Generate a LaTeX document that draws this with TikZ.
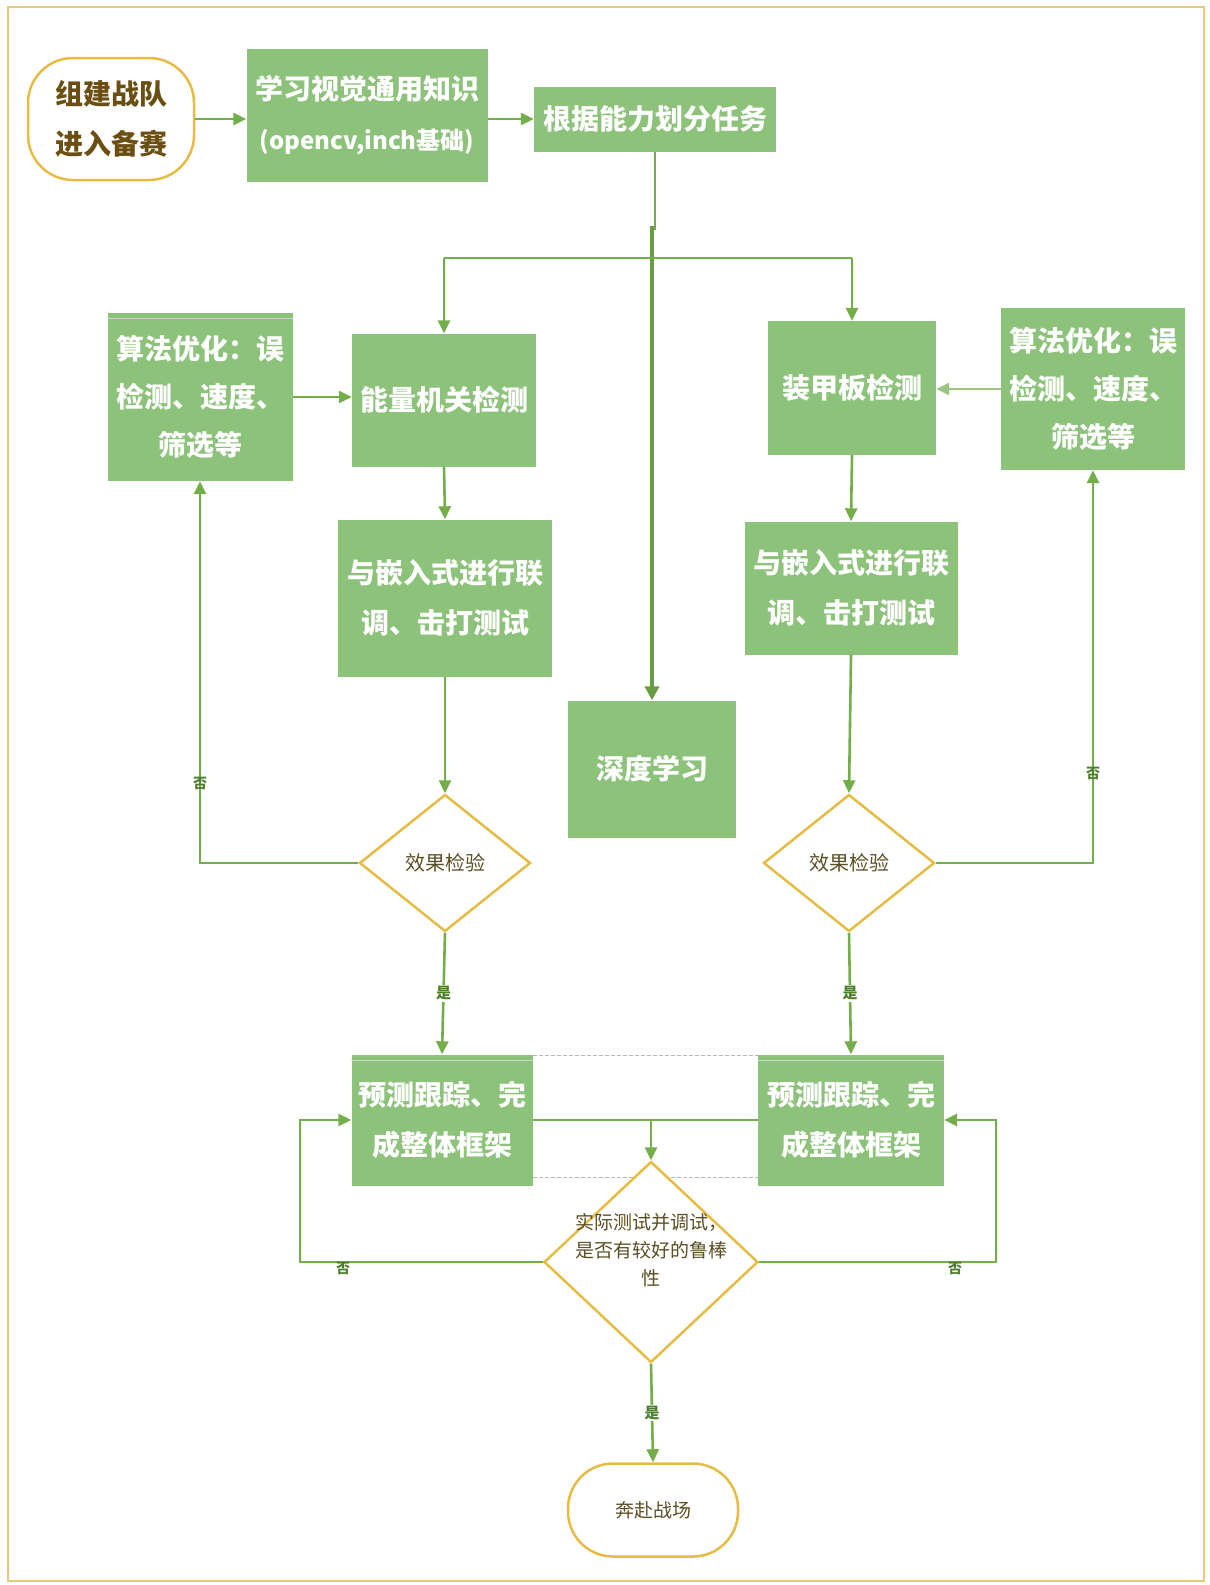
\documentclass[tikz,border=0pt]{standalone}
\usepackage{fontspec}
\setmainfont{Noto Sans CJK SC}
\usetikzlibrary{arrows.meta,shapes.geometric}

\definecolor{boxgreen}{HTML}{8DC27B}
\definecolor{linegreen}{HTML}{74AE4B}
\definecolor{goldline}{HTML}{E6BC45}
\definecolor{framegold}{HTML}{EBC77A}
\definecolor{browntext}{HTML}{6B4F12}
\definecolor{olivetext}{HTML}{5C4E24}
\definecolor{labelgreen}{HTML}{4C7F2C}

\tikzset{
  taskbox/.style={fill=boxgreen, draw=none, text=white, align=center, inner sep=0pt,
    font=\fontsize{28}{50}\selectfont\bfseries},
  terminal/.style={draw=goldline, line width=2.5pt, rounded corners=45pt, fill=white,
    align=center, inner sep=0pt},
  decision/.style={draw=goldline, line width=2.5pt, diamond, fill=white, inner sep=0pt, shape aspect=1},
  dectext/.style={text=olivetext, align=center, inner sep=0pt},
  flow/.style={draw=linegreen, line width=2.6pt,
    -{Triangle[length=13pt,width=12pt]}},
  flowline/.style={draw=linegreen, line width=2.6pt},
  trunk/.style={draw=linegreen!90!black, line width=4.5pt,
    -{Triangle[length=14pt,width=14pt]}},
  yeslabel/.style={text=labelgreen, fill=white, inner sep=1.5pt,
    font=\fontsize{15}{15}\selectfont\bfseries},
  nolabel/.style={text=labelgreen, inner sep=0pt,
    font=\fontsize{14}{14}\selectfont\bfseries},
  sheen/.style={draw=gray!35, line width=1.2pt},
  lane/.style={draw=gray!55, line width=1.2pt, dash pattern=on 4pt off 2pt}
}

\begin{document}
\begin{tikzpicture}[x=1pt, y=-1pt]
  \useasboundingbox (0,0) rectangle (1210,1585);
  % outer frame
  \draw[framegold, line width=2.5pt] (8,7) rectangle (1204,1581);

  % top row
  \node[terminal, minimum width=166pt, minimum height=122pt, text=browntext,
        font=\fontsize{28}{50}\selectfont\bfseries] (start) at (111,119) {组建战队\\进入备赛};
  \node[taskbox, minimum width=241pt, minimum height=133pt] (learn) at (367,115)
        {学习视觉通用知识\\{\fontsize{24}{50}\selectfont(opencv,inch基础)}};
  \node[taskbox, minimum width=242pt, minimum height=65pt] (split) at (655,119) {根据能力划分任务};

  % two detection branches
  \node[taskbox, minimum width=185pt, minimum height=168pt,
        font=\fontsize{28}{48}\selectfont\bfseries] (optL) at (200,397) {算法优化：误\\检测、速度、\\筛选等};
  \node[taskbox, minimum width=184pt, minimum height=133pt] (rune) at (444,400) {能量机关检测};
  \node[taskbox, minimum width=168pt, minimum height=134pt] (armor) at (852,388) {装甲板检测};
  \node[taskbox, minimum width=184pt, minimum height=162pt,
        font=\fontsize{28}{48}\selectfont\bfseries] (optR) at (1093,389) {算法优化：误\\检测、速度、\\筛选等};
  \node[taskbox, minimum width=214pt, minimum height=157pt] (tuneL) at (445,598) {与嵌入式进行联\\调、击打测试};
  \node[taskbox, minimum width=213pt, minimum height=133pt] (tuneR) at (851,588) {与嵌入式进行联\\调、击打测试};
  \node[taskbox, minimum width=168pt, minimum height=137pt] (deep) at (652,769) {深度学习};

  % checks
  \node[decision, minimum width=171pt, minimum height=137pt] (checkL) at (445,863) {};
  \node[dectext, font=\fontsize{20}{20}\selectfont] (checkLt) at (checkL) {效果检验};
  \node[decision, minimum width=171pt, minimum height=137pt] (checkR) at (849,863) {};
  \node[dectext, font=\fontsize{20}{20}\selectfont] (checkRt) at (checkR) {效果检验};

  % tracking boxes
  \node[taskbox, minimum width=181pt, minimum height=131pt] (trackL) at (442,1120) {预测跟踪、完\\成整体框架};
  \node[taskbox, minimum width=186pt, minimum height=131pt] (trackR) at (851,1120) {预测跟踪、完\\成整体框架};
  \draw[sheen] ([yshift=-6pt]optL.north west) -- ([yshift=-6pt]optL.north east);
  \draw[sheen] ([yshift=-6pt]trackL.north west) -- ([yshift=-6pt]trackL.north east);
  \draw[sheen] ([yshift=-6pt]trackR.north west) -- ([yshift=-6pt]trackR.north east);
  \draw[lane] ([yshift=-1pt]trackL.north east) -- ([yshift=-1pt]trackR.north west);
  \draw[lane] ([yshift=8pt]trackL.south east) -- ([yshift=8pt]trackR.south west);

  % final check and end
  \node[decision, minimum width=214pt, minimum height=201pt] (robust) at (651,1262) {};
  \node[dectext, font=\fontsize{19}{28}\selectfont] (robustt) at (651,1250) {实际测试并调试，\\是否有较好的鲁棒\\性};
  \node[terminal, minimum width=170pt, minimum height=93pt, text=olivetext,
        font=\fontsize{19}{19}\selectfont] (go) at (653,1510) {奔赴战场};

  % routing points
  \coordinate (fork) at (652,258);
  \coordinate (loopL) at (300,0);
  \coordinate (loopR) at (996,0);

  % top flow
  \draw[flow] (start.east |- 0,119) -- (learn.west |- 0,119);
  \draw[flow] (learn.east |- split) -- (split.west);
  \draw[flowline] (split.south) -- (split.south |- 0,230);
  \draw[trunk] (fork |- 0,226) -- (deep.north);
  \draw[flowline] (rune.north |- fork) -- (armor.north |- fork);
  \draw[flow] (fork -| rune.north) -- (rune.north);
  \draw[flow] (fork -| armor.north) -- (armor.north);

  % left branch
  \draw[flow] (optL.east) -- (optL.east -| rune.west);
  \draw[flow] (rune.south) -- (tuneL.north);
  \draw[flow] (tuneL.south) -- (checkL.north);
  \draw[flow] (checkL.west) -| (optL.south);
  \node[nolabel] (noL) at (optL.south |- 0,783) {否};
  \draw[flow] (checkL.south) -- node[yeslabel, pos=0.5] (yesL) {是} (trackL.north);

  % right branch
  \draw[flow, draw=linegreen!70] (optR.west) -- (optR.west -| armor.east);
  \draw[flow] (armor.south) -- (tuneR.north);
  \draw[flow] (tuneR.south) -- (checkR.north);
  \draw[flow] (checkR.east) -| (optR.south);
  \node[nolabel] (noR) at (optR.south |- 0,773) {否};
  \draw[flow] (checkR.south) -- node[yeslabel, pos=0.5] (yesR) {是} (trackR.north);

  % merge into final check
  \draw[flowline] (trackL.east) -- (trackR.west);
  \draw[flow] (robust.north |- trackL) -- (robust.north);
  \draw[flow] (robust.west) -- (loopL |- robust) -- (loopL |- trackL) -- (trackL.west);
  \draw[flow] (robust.east) -- (loopR |- robust) -- (loopR |- trackR) -- (trackR.east);
  \node[nolabel] (noBL) at (343,1268) {否};
  \node[nolabel] (noBR) at (955,1268) {否};
  \draw[flow] (robust.south) -- node[yeslabel, pos=0.5] (yesB) {是} (go.north);
\end{tikzpicture}
\end{document}
